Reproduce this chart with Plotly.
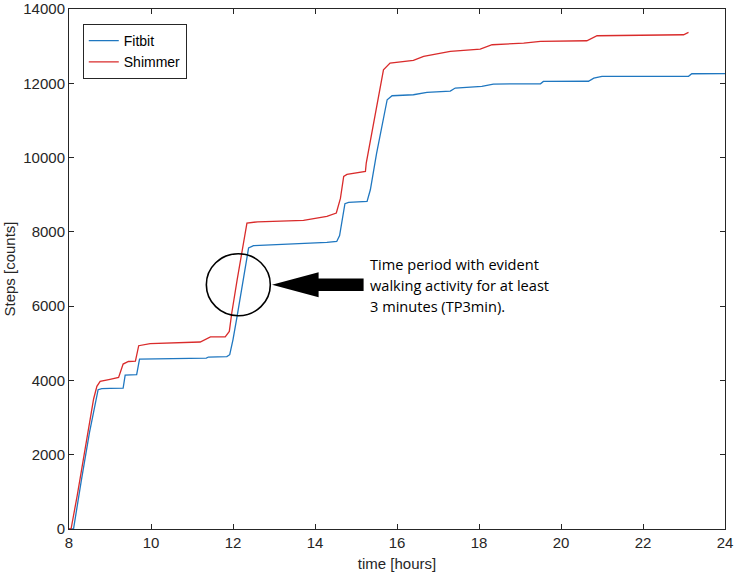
import plotly.graph_objects as go

# Fitbit cumulative steps
fitbit_hours = [8.0, 8.11, 8.3, 8.5, 8.71, 8.8, 9.0, 9.32, 9.37, 9.5, 9.65, 9.72, 10.0, 10.5, 11.0, 11.35,
                11.4, 11.85, 11.92, 12.0, 12.10, 12.25, 12.38, 12.5, 13.0, 13.8, 14.29, 14.53, 14.6, 14.73,
                14.82, 15.27, 15.35, 15.5, 15.65, 15.76, 15.88, 16.4, 16.73, 17.3, 17.42, 18.07, 18.35,
                19.5, 19.57, 20.67, 20.8, 21.0, 23.11, 23.19, 24.0]
fitbit_steps = [0, 0, 1300, 2600, 3750, 3780, 3785, 3790, 4145, 4150, 4154, 4576, 4580, 4585, 4590, 4600,
                4630, 4640, 4692, 5100, 5723, 6700, 7565, 7627, 7650, 7680, 7716, 7742, 7900, 8757,
                8792, 8819, 9134, 10100, 10900, 11557, 11665, 11691, 11753, 11790, 11872, 11915, 11980,
                11985, 12050, 12055, 12140, 12185, 12190, 12257, 12260]

# Shimmer cumulative steps
shimmer_hours = [8.0, 8.05, 8.2, 8.4, 8.6, 8.68, 8.76, 9.0, 9.21, 9.32, 9.45, 9.62, 9.70, 9.98, 10.5,
                 11.2, 11.45, 11.81, 11.91, 11.97, 12.1, 12.22, 12.34, 12.6, 13.72, 14.29, 14.52, 14.62,
                 14.70, 14.78, 15.23, 15.25, 15.45, 15.67, 15.83, 16.4, 16.65, 17.3, 18.03, 18.32, 19.09,
                 19.5, 20.63, 20.88, 22.99, 23.11]
shimmer_steps = [0, 0, 900, 2200, 3500, 3840, 3975, 4030, 4080, 4440, 4510, 4520, 4935, 4990, 5010,
                 5035, 5170, 5170, 5320, 5815, 6700, 7520, 8237, 8270, 8307, 8415, 8507, 8900,
                 9492, 9545, 9627, 9853, 11000, 12364, 12545, 12615, 12722, 12857, 12922, 13038, 13083,
                 13127, 13145, 13280, 13307, 13370]

x_ticks = [8, 10, 12, 14, 16, 18, 20, 22, 24]
y_ticks = [0, 2000, 4000, 6000, 8000, 10000, 12000, 14000]

annotation_lines = ["Time period with evident", "walking activity for at least", "3 minutes (TP3min)."]

axis_color = "#262626"
font_axes = "Liberation Sans, Arial, sans-serif"

fig = go.Figure()
fig.add_trace(go.Scatter(x=fitbit_hours, y=fitbit_steps, mode="lines", name="Fitbit",
                         line=dict(color="#1f77c0", width=1.3)))
fig.add_trace(go.Scatter(x=shimmer_hours, y=shimmer_steps, mode="lines", name="Shimmer",
                         line=dict(color="#d92b2b", width=1.3)))

axis_common = dict(showgrid=False, zeroline=False, showline=True, mirror="ticks",
                   linecolor=axis_color, linewidth=1, ticks="inside", ticklen=5,
                   tickcolor=axis_color, tickfont=dict(family=font_axes, size=15, color=axis_color),
                   automargin=False)

fig.update_xaxes(range=[8, 24], tickvals=x_ticks, ticktext=[str(v) for v in x_ticks],
                 title=dict(text="time [hours]", font=dict(family=font_axes, size=15, color=axis_color),
                            standoff=8),
                 **axis_common)
fig.update_yaxes(range=[0, 14000], tickvals=y_ticks, ticktext=[str(v) for v in y_ticks],
                 title=dict(text="Steps [counts]", font=dict(family=font_axes, size=15, color=axis_color),
                            standoff=4),
                 **axis_common)

# Circle around the time period (data coordinates)
cx, cy = 12.13, 6577
rx, ry = 0.78, 835
fig.add_shape(type="circle", xref="x", yref="y", x0=cx - rx, x1=cx + rx, y0=cy - ry, y1=cy + ry,
              line=dict(color="black", width=1.6))

# Thick arrow pointing left (built in data coordinates)
px_per_hour = 41.0
steps_per_px = 26.92
tip_x = 8 + (271.7 - 68.7) / px_per_hour
base_x = 8 + (318.3 - 68.7) / px_per_hour
tail_x = 8 + (363.3 - 68.7) / px_per_hour
mid_y = cy
head_half = 12.5 * steps_per_px
shaft_half = 6.2 * steps_per_px
path = (f"M {tip_x},{mid_y} L {base_x},{mid_y + head_half} L {base_x},{mid_y + shaft_half} "
        f"L {tail_x},{mid_y + shaft_half} L {tail_x},{mid_y - shaft_half} L {base_x},{mid_y - shaft_half} "
        f"L {base_x},{mid_y - head_half} Z")
fig.add_shape(type="path", xref="x", yref="y", path=path, fillcolor="black",
              line=dict(color="black", width=0))

text_x = 8 + (369 - 68.7) / px_per_hour
for i, line in enumerate(annotation_lines):
    fig.add_annotation(x=text_x, y=cy + 21 * steps_per_px * (1 - i), xref="x", yref="y",
                       text=line, showarrow=False, xanchor="left", yanchor="middle",
                       align="left", borderpad=0,
                       font=dict(family="Open Sans, sans-serif", size=14.6, color="black"))

fig.update_layout(
    width=737, height=578,
    margin=dict(l=69, r=12, t=9, b=49),
    plot_bgcolor="white", paper_bgcolor="white",
    showlegend=True,
    legend=dict(x=0.021, y=0.971, xanchor="left", yanchor="top",
                bgcolor="white", bordercolor=axis_color, borderwidth=1,
                font=dict(family=font_axes, size=14, color="black"),
                tracegroupgap=0, itemwidth=30),
)

fig.write_html("out.html", config={"displayModeBar": False},
               post_script="document.body.style.margin='0';document.body.style.overflow='hidden';")
